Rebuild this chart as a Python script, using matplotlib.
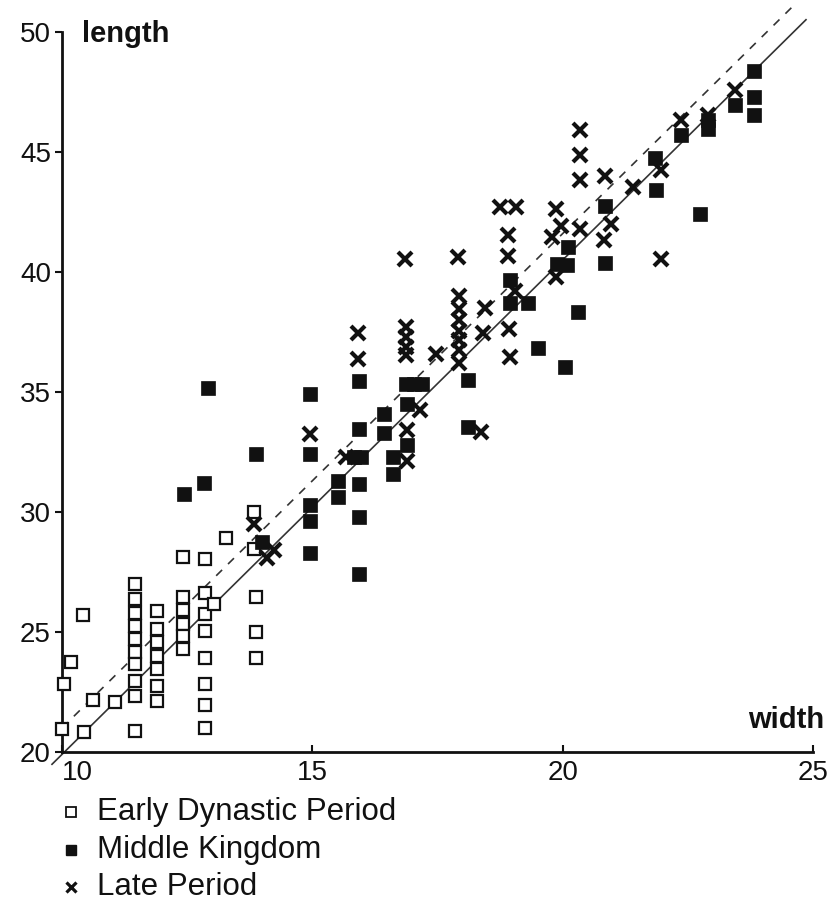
import matplotlib
matplotlib.use("Agg")
import matplotlib.pyplot as plt
from matplotlib.lines import Line2D
import numpy as np

plt.rcParams["font.family"] = ["Liberation Sans", "DejaVu Sans"]

# Early Dynastic Period
early_width = [10.0, 10.03, 10.17, 10.41, 10.44, 10.61, 11.06,
               11.45, 11.45, 11.45, 11.45, 11.45, 11.45, 11.45, 11.45, 11.45, 11.45,
               11.9, 11.9, 11.9, 11.9, 11.9, 11.9, 11.9,
               12.41, 12.41, 12.41, 12.41, 12.41, 12.41,
               12.85, 12.85, 12.85, 12.85, 12.85, 12.85, 12.85, 12.85,
               13.04, 13.28,
               13.83, 13.83, 13.88, 13.88, 13.88]
early_length = [20.95, 22.83, 23.73, 25.70, 20.82, 22.16, 22.07,
                26.98, 26.36, 25.81, 25.25, 24.72, 24.17, 23.66, 22.96, 22.34, 20.89,
                25.88, 25.11, 24.59, 24.0, 23.45, 22.73, 22.13,
                28.14, 26.47, 25.91, 25.32, 24.84, 24.28,
                28.05, 26.64, 25.74, 25.04, 23.93, 22.82, 21.95, 21.02,
                26.15, 28.9,
                30.0, 28.45, 26.47, 25.0, 23.9]

# Middle Kingdom
middle_width = [12.44, 12.84, 12.92, 13.87, 14.0,
                14.96, 14.96, 14.96, 14.96, 14.96,
                15.51, 15.51, 15.84, 15.97,
                15.94, 15.93, 15.93, 15.93, 15.93,
                16.44, 16.44, 16.61, 16.61,
                16.87, 17.03, 17.2, 16.9, 16.9,
                18.11, 18.11, 18.94, 18.94, 19.3, 19.51, 20.04, 20.31,
                19.88, 20.08, 20.11, 20.84, 20.84,
                21.85, 21.86, 22.37, 22.75, 22.91, 22.91,
                23.44, 23.83, 23.83, 23.83]
middle_length = [30.73, 31.21, 35.15, 32.4, 28.76,
                 34.9, 32.42, 30.3, 29.62, 28.28,
                 31.28, 30.63, 32.31, 32.31,
                 35.44, 33.45, 31.18, 29.8, 27.4,
                 34.1, 33.3, 32.28, 31.6,
                 35.33, 35.33, 35.35, 34.5, 32.8,
                 35.5, 33.55, 39.67, 38.72, 38.7, 36.82, 36.05, 38.35,
                 40.35, 40.28, 41.05, 42.74, 40.36,
                 44.75, 43.41, 45.70, 42.43, 46.32, 45.97,
                 46.94, 48.37, 47.31, 46.53]

# Late Period
late_width = [13.84, 14.24, 14.1, 14.96, 15.67, 15.91, 15.91,
              16.86, 16.88, 16.88, 16.88, 16.88, 17.48, 17.15, 16.9, 16.9,
              17.91, 17.93, 17.93, 17.93, 17.93, 17.93, 17.93, 17.93,
              18.44, 18.41, 18.37, 18.75, 19.06, 18.9, 18.9, 19.05, 18.93, 18.94,
              19.86, 19.97, 19.79, 19.86,
              20.34, 20.34, 20.34, 20.34, 20.84, 20.97, 20.82,
              21.41, 21.97, 21.97, 22.37, 22.91, 23.44]
late_length = [29.5, 28.42, 28.07, 33.25, 32.3, 37.45, 36.37,
               40.56, 37.72, 37.3, 36.89, 36.54, 36.58, 34.26, 33.4, 32.12,
               40.63, 39.0, 38.45, 38.0, 37.55, 37.15, 36.75, 36.22,
               38.49, 37.45, 33.33, 42.7, 42.7, 41.54, 40.65, 39.2, 37.63, 36.47,
               42.64, 41.91, 41.47, 39.8,
               45.93, 44.86, 43.83, 41.81, 43.99, 42.02, 41.33,
               43.55, 44.26, 40.56, 46.32, 46.53, 47.59]

# Reference lines: length = slope * width + intercept
line_slope = 2.06
solid_intercept = -0.7
dashed_intercept = 0.4
solid_range = [9.8, 24.86]
dashed_range = [10.0, 24.59]

x_ticks = [10, 15, 20, 25]
y_ticks = [20, 25, 30, 35, 40, 45, 50]
legend_labels = ["Early Dynastic Period", "Middle Kingdom", "Late Period"]

W, H = 833, 901
fig = plt.figure(figsize=(W / 100, H / 100), dpi=100)
ax = fig.add_axes([62 / W, 149 / H, 751 / W, 720 / H])

ink = "#111111"

sx = np.array(solid_range)
ax.plot(sx, line_slope * sx + solid_intercept, color="#333333", lw=1.2,
        clip_on=False, zorder=1)
dx = np.array(dashed_range)
ax.plot(dx, line_slope * dx + dashed_intercept, color="#333333", lw=1.2,
        dashes=(5, 5), clip_on=False, zorder=1)

ax.plot(early_width, early_length, ls="none", marker="s", ms=8.5,
        mfc="white", mec=ink, mew=1.6, clip_on=False, zorder=3)
ax.plot(middle_width, middle_length, ls="none", marker="s", ms=9.5,
        mfc=ink, mec=ink, mew=0.5, clip_on=False, zorder=3)
ax.plot(late_width, late_length, ls="none", marker="x", ms=9.5,
        mec=ink, mew=3.0, clip_on=False, zorder=4)

ax.set_xlim(10, 25)
ax.set_ylim(20, 50)
for side in ("top", "right"):
    ax.spines[side].set_visible(False)
for side in ("left", "bottom"):
    ax.spines[side].set_linewidth(2.0)
    ax.spines[side].set_color(ink)

ax.set_xticks(x_ticks)
ax.set_yticks(y_ticks)
ax.tick_params(axis="y", direction="out", length=5, width=1.5, pad=3,
               labelsize=20, colors=ink)
ax.tick_params(axis="x", direction="in", length=5, width=1.5, pad=6,
               labelsize=20, colors=ink)
ax.get_xticklabels()[0].set_horizontalalignment("left")

ax.text(0.027, 0.997, "length", transform=ax.transAxes, ha="left",
        va="center", fontsize=21, fontweight="bold", color=ink)
ax.text(1.015, 0.045, "width", transform=ax.transAxes, ha="right",
        va="center", fontsize=21, fontweight="bold", color=ink)

# Legend key, drawn row by row below the axes
legend_styles = [
    dict(marker="s", ms=6.5, mfc="white", mec=ink, mew=1.3),
    dict(marker="s", ms=6.5, mfc=ink, mec=ink),
    dict(marker="x", ms=6.5, mec=ink, mew=2.3),
]
row_y = [812, 850, 887]
for label, style, y in zip(legend_labels, legend_styles, row_y):
    fig.add_artist(Line2D([71 / W], [1 - y / H], ls="none",
                          transform=fig.transFigure, **style))
    fig.text(97 / W, 1 - y / H, label, ha="left", va="center",
             fontsize=22.5, color=ink)

fig.savefig("out.png", dpi=100, facecolor="white")
